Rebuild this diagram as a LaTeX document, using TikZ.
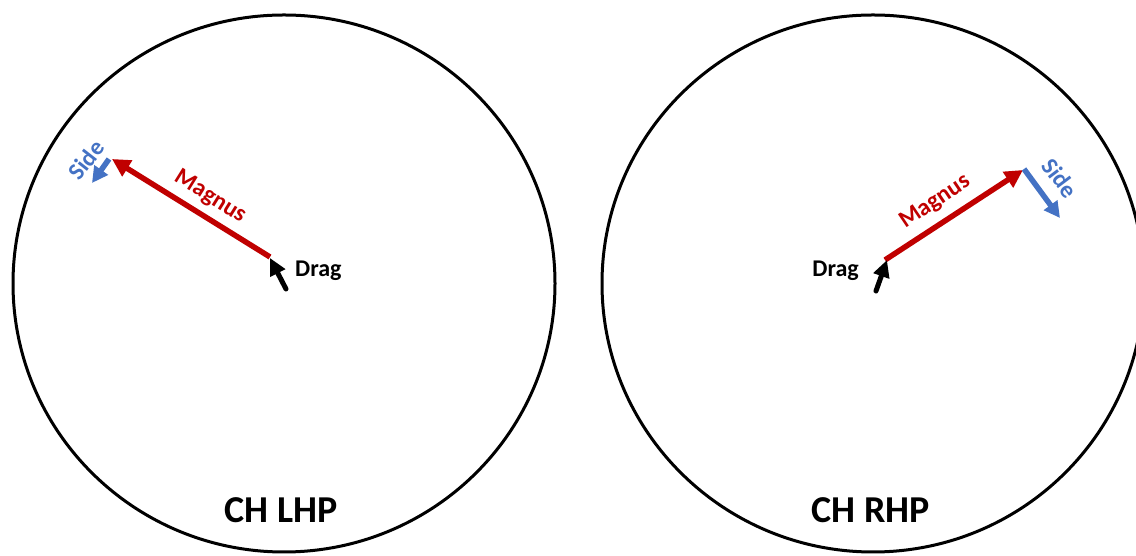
\documentclass[tikz,border=0pt]{standalone}
\usepackage{fontspec}
\setmainfont{Carlito}
\usetikzlibrary{arrows.meta,shapes.geometric}
\definecolor{magred}{HTML}{C00000}
\definecolor{sideblue}{HTML}{4472C4}
\tikzset{
  ring/.style={draw=black,line width=3pt,ellipse,minimum width=542pt,minimum height=537pt,inner sep=0pt},
  magarrow/.style={draw=magred,line width=5.5pt,-{Triangle[length=18pt,width=18pt]}},
  sidearrow/.style={draw=sideblue,line width=5.5pt,-{Triangle[length=16pt,width=16pt]}},
  dragarrow/.style={draw=black,line width=5pt,line cap=round,-{Triangle[length=17pt,width=16pt]}},
  lbl/.style={font=\bfseries\fontsize{24}{24}\selectfont,inner sep=0pt},
  title/.style={font=\bfseries\fontsize{38}{38}\selectfont,inner sep=0pt}
}
\begin{document}
\begin{tikzpicture}[x=1pt,y=1pt]
\useasboundingbox (0,0) rectangle (1136,556);
\fill[white] (0,0) rectangle (1136,556);
% circles
\node[ring] (cl) at (284,272.5) {};
\node[ring] (cr) at (873,272.5) {};
% left
\coordinate (lmt) at (270,299);
\coordinate (lmh) at (112,397);
\coordinate (lst) at (109,397);
\coordinate (lsh) at (92,373);
\coordinate (ldt) at (286,267);
\coordinate (ldh) at (270,298);
\draw[magarrow] (lmt) -- (lmh);
\draw[sidearrow] (lst) -- (lsh);
\draw[dragarrow] (ldt) -- (ldh);
\node[lbl,text=magred,rotate=-32] (lmag) at (210,359) {Magnus};
\node[lbl,text=sideblue,rotate=52] (lside) at (86,396) {Side};
\node[lbl,anchor=west] (ldrag) at (295,285) {Drag};
\node[title] (ltitle) at (281,46) {CH LHP};
% right
\coordinate (rmt) at (885,296);
\coordinate (rmh) at (1023,386);
\coordinate (rst) at (1024,387);
\coordinate (rsh) at (1060,338);
\coordinate (rdt) at (876,265);
\coordinate (rdh) at (887,296);
\draw[magarrow] (rmt) -- (rmh);
\draw[sidearrow] (rst) -- (rsh);
\draw[dragarrow] (rdt) -- (rdh);
\node[lbl,text=magred,rotate=34] (rmag) at (935,354) {Magnus};
\node[lbl,text=sideblue,rotate=-53] (rside) at (1060,378) {Side};
\node[lbl,anchor=east] (rdrag) at (859,285) {Drag};
\node[title] (rtitle) at (871,46) {CH RHP};
\end{tikzpicture}
\end{document}
